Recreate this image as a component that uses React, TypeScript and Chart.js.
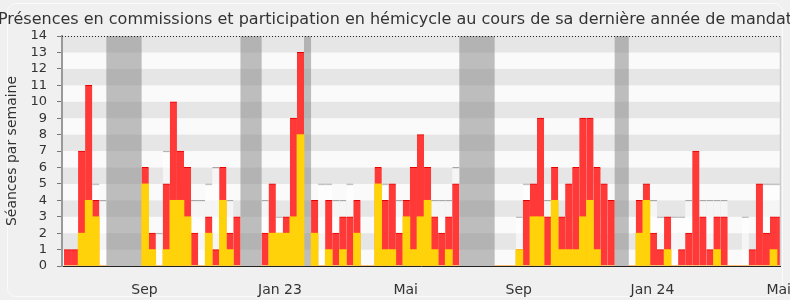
import React, { useEffect, useRef } from "react";
import { Chart, registerables } from "chart.js";

Chart.register(...registerables);

const TITLE =
  "Présences en commissions et participation en hémicycle au cours de sa dernière année de mandat";
const Y_TITLE = "Séances par semaine";

// Weekly values, week 0 = first week shown (null = no sitting / holiday)
// Total sessions per week (commissions + hémicycle), red bars
const totals = [
  1, 1, 7, 11, 4, 0, null, null, null, null, null,
  6, 2, 0, 5, 10, 7, 6, 2, 0, 3, 1, 6, 2, 3, null, null, null,
  2, 5, 2, 3, 9, 13, null,
  4, 0, 4, 2, 3, 3, 4, 0, 0, 6, 4, 5, 2, 4, 6, 8, 6, 3, 2, 3, 5,
  null, null, null, null, null,
  0, 0, 0, 1, 4, 5, 9, 3, 6, 3, 5, 6, 9, 9, 6, 5, 4, null, null,
  0, 4, 5, 2, 1, 3, 0, 1, 2, 7, 3, 1, 3, 3, 0, 0, 0, 1, 5, 2, 3, 3,
];
// Commission presences per week, yellow bars
const commissions = [
  0, 0, 2, 4, 3, 0, null, null, null, null, null,
  5, 1, 0, 1, 4, 4, 3, 0, 0, 2, 0, 4, 1, 0, null, null, null,
  0, 2, 2, 2, 3, 8, null,
  2, 0, 1, 0, 1, 0, 2, 0, 0, 5, 1, 1, 0, 3, 1, 3, 4, 1, 0, 1, 0,
  null, null, null, null, null,
  0, 0, 0, 1, 0, 3, 3, 0, 4, 1, 1, 1, 3, 4, 1, 0, 0, null, null,
  0, 2, 4, 0, 0, 1, 0, 0, 0, 0, 0, 0, 1, 0, 0, 0, 0, 0, 0, 0, 1, 0,
];
// Median of all deputies (only where visible above the bars)
const medians = [
  null, null, null, null, 5, 4, null, null, null, null, null,
  null, null, 2, 7, null, null, null, 4, 4, 5, 6, null, 4, null, null, null, null,
  4, null, 3, null, null, null, null,
  null, 5, 5, 4, 4, 5, null, null, null, null, 5, null, 4, null, null, null, null, 4, 4, 4, 6,
  null, null, null, null, null,
  null, null, null, 3, 5, null, null, 4, null, null, null, null, null, null, null, null, null, null, null,
  null, null, null, 4, 3, null, 3, 3, 4, null, 4, 4, 4, 4, null, null, 3, null, null, 5, 5, 5,
];
// Parliamentary holiday weeks (grey bands)
const vacationWeeks = [6, 7, 8, 9, 10, 25, 26, 27, 34, 56, 57, 58, 59, 60, 78, 79];

const Y_MAX = 14;
const xTickLabels = ["Sep", "Jan 23", "Mai", "Sep", "Jan 24", "Mai"];
const xTickWeeks = [10.9, 30.1, 47.9, 63.92, 82.86, 100.73];
const X_MIN = -0.78;
const X_MAX = 100.92;

const FONT = "'DejaVu Sans', Verdana, sans-serif";

const toPoints = (arr: (number | null)[]) =>
  arr.map((v, i) => (v === null ? null : { x: i, y: v })).filter((p) => p !== null) as {
    x: number;
    y: number;
  }[];

// group consecutive holiday weeks into [start, end] ranges
const vacationRanges = () => {
  const out: [number, number][] = [];
  vacationWeeks.forEach((w) => {
    const last = out[out.length - 1];
    if (last && last[1] === w - 1) last[1] = w;
    else out.push([w, w]);
  });
  return out;
};

const decorPlugin = {
  id: "decor",
  beforeDraw(chart: any) {
    const { ctx, width, height, chartArea } = chart;
    ctx.save();
    ctx.fillStyle = "#f0f0f0";
    ctx.fillRect(0, 0, width, height);
    ctx.strokeStyle = "#fbfbfb";
    ctx.lineWidth = 1;
    ctx.beginPath();
    if (ctx.roundRect) ctx.roundRect(7.5, 3.5, 775, 293, 8);
    else ctx.rect(7.5, 3.5, 775, 293);
    ctx.stroke();
    const y = chart.scales.y;
    for (let v = 0; v < Y_MAX; v++) {
      const top = y.getPixelForValue(v + 1);
      const bottom = y.getPixelForValue(v);
      ctx.fillStyle = v % 2 === 0 ? "#fafafa" : "#e6e6e6";
      ctx.fillRect(chartArea.left, top, chartArea.right - chartArea.left, bottom - top);
    }
    // title (drawn without width compression, clipped by the canvas like the original)
    ctx.fillStyle = "#333";
    ctx.font = `normal 16px ${FONT}`;
    ctx.textAlign = "center";
    ctx.textBaseline = "middle";
    ctx.fillText(TITLE, width / 2, 20);
    ctx.restore();
  },
  beforeDatasetsDraw(chart: any) {
    const { ctx, chartArea } = chart;
    const x = chart.scales.x;
    const y = chart.scales.y;
    ctx.save();
    ctx.beginPath();
    ctx.rect(chartArea.left, chartArea.top, chartArea.right - chartArea.left, chartArea.bottom - chartArea.top);
    ctx.clip();
    ctx.fillStyle = "rgba(128,128,128,0.5)";
    vacationRanges().forEach(([a, b]) => {
      const l = x.getPixelForValue(a - 0.5);
      const r = x.getPixelForValue(b + 0.5);
      const t = y.getPixelForValue(Y_MAX);
      const btm = y.getPixelForValue(0);
      ctx.fillRect(l, t, r - l, btm - t);
    });
    ctx.restore();
  },
  afterDatasetsDraw(chart: any) {
    const { ctx, chartArea } = chart;
    ctx.save();
    ctx.strokeStyle = "#222";
    ctx.lineWidth = 1;
    ctx.setLineDash([1, 2]);
    ctx.beginPath();
    ctx.moveTo(chartArea.left, Math.round(chartArea.top) + 0.5);
    ctx.lineTo(chartArea.right, Math.round(chartArea.top) + 0.5);
    ctx.stroke();
    ctx.setLineDash([]);
    ctx.strokeStyle = "#cfcfcf";
    ctx.lineWidth = 1.5;
    ctx.beginPath();
    ctx.moveTo(chartArea.right + 0.5, chartArea.top);
    ctx.lineTo(chartArea.right + 0.5, chartArea.bottom);
    ctx.stroke();
    ctx.restore();
  },
};

export default function App() {
  const ref = useRef<HTMLCanvasElement | null>(null);

  useEffect(() => {
    if (!ref.current) return;
    const common = { grouped: false, barPercentage: 1, categoryPercentage: 1 };
    const chart = new Chart(ref.current, {
      type: "bar",
      data: {
        datasets: [
          {
            label: "Commissions",
            data: toPoints(commissions),
            backgroundColor: "#ffd20a",
            borderWidth: 0,
            ...common,
          } as any,
          {
            label: "Hémicycle",
            data: toPoints(totals),
            backgroundColor: "#ff3838",
            borderColor: "#e80000",
            borderWidth: { top: 1, left: 0, right: 0, bottom: 0 },
            borderSkipped: "start",
            ...common,
          } as any,
          {
            label: "Médiane",
            data: toPoints(medians),
            backgroundColor: "rgba(255,255,255,0.6)",
            borderColor: "#a8a8a8",
            borderWidth: { top: 1, left: 0, right: 0, bottom: 0 },
            ...common,
          } as any,
        ],
      },
      options: {
        animation: false,
        responsive: true,
        maintainAspectRatio: false,
        layout: { padding: { left: 0, right: 10, top: 36, bottom: 0 } },
        plugins: {
          legend: { display: false },
          tooltip: { enabled: false },
          title: { display: false },
        },
        scales: {
          x: {
            type: "linear",
            min: X_MIN,
            max: X_MAX,
            offset: false,
            bounds: "data",
            z: 1,
            grid: { display: false, offset: false },
            border: { display: true, color: "#222", width: 1 },
            afterBuildTicks: (s: any) => {
              s.ticks = xTickWeeks.map((v) => ({ value: v }));
            },
            afterFit: (s: any) => {
              s.height = 34;
              s.paddingLeft = 0;
              s.paddingRight = 0;
            },
            ticks: {
              autoSkip: false,
              maxRotation: 0,
              padding: 8,
              color: "#333",
              font: { family: FONT, size: 14 },
              callback: (_v: any, i: number) => xTickLabels[i],
            },
          },
          y: {
            min: 0,
            max: Y_MAX,
            z: 1,
            grid: {
              drawOnChartArea: false,
              drawTicks: true,
              tickLength: 5,
              color: "#777",
            },
            border: { display: true, color: "#999", width: 2 },
            afterFit: (s: any) => {
              s.width = 62;
              s.paddingTop = 0;
              s.paddingBottom = 0;
            },
            ticks: {
              stepSize: 1,
              autoSkip: false,
              padding: 10,
              color: "#333",
              font: { family: FONT, size: 13 },
            },
            title: {
              display: true,
              text: Y_TITLE,
              color: "#333",
              font: { family: FONT, size: 14 },
              padding: { top: 4, bottom: 0 },
            },
          },
        },
      } as any,
      plugins: [decorPlugin],
    });
    return () => chart.destroy();
  }, []);

  return (
    <div style={{ position: "absolute", left: 0, top: 0, width: 790, height: 300 }}>
      <canvas ref={ref} />
    </div>
  );
}
